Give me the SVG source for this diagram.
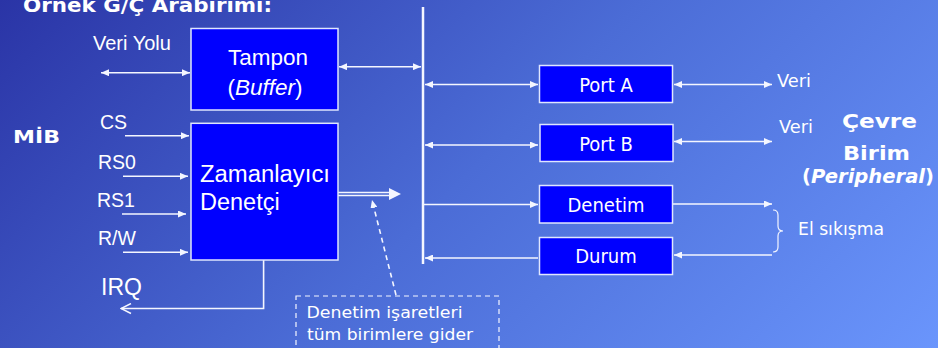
<svg xmlns="http://www.w3.org/2000/svg" width="938" height="348" viewBox="0 0 938 348">
  <defs>
    <linearGradient id="bg" gradientUnits="userSpaceOnUse" x1="0" y1="0" x2="643" y2="643">
      <stop offset="0" stop-color="#2a34a6"/>
      <stop offset="0.5" stop-color="#4b6cd6"/>
      <stop offset="1" stop-color="#6a95fc"/>
    </linearGradient>
    <marker id="tri" markerUnits="userSpaceOnUse" viewBox="0 0 8 7" refX="8" refY="3.5" markerWidth="8" markerHeight="7" orient="auto-start-reverse">
      <path d="M0,0 L8,3.5 L0,7 z" fill="#f4f6ff"/>
    </marker>
    <marker id="open" markerUnits="userSpaceOnUse" viewBox="0 0 12 12" refX="11" refY="6" markerWidth="12" markerHeight="12" orient="auto">
      <path d="M1,1 L11,6 L1,11" fill="none" stroke="#f4f6ff" stroke-width="1.5"/>
    </marker>
  </defs>
  <style>
    .box { fill: #0000ff; stroke: #dfe6ff; stroke-width: 1.5; }
    .ln { fill: none; stroke: #f4f6ff; stroke-width: 1.6; }
    .arw { marker-end: url(#tri); }
    .bi { marker-start: url(#tri); marker-end: url(#tri); }
    .sans { font-family: "Liberation Sans", Arial, sans-serif; fill: #ffffff; }
    .tah { font-family: "DejaVu Sans Condensed", "DejaVu Sans", sans-serif; font-stretch: condensed; fill: #ffffff; text-anchor: middle; font-size: 20px; }
    .comic { font-family: "Comic Sans MS", "DejaVu Sans", sans-serif; fill: #ffffff; }
    .cb { font-family: "Comic Sans MS", "DejaVu Sans", sans-serif; fill: #ffffff; font-weight: bold; }
  </style>

  <rect x="0" y="0" width="938" height="348" fill="url(#bg)"/>

  <!-- headings -->
  <text class="cb" x="23" y="12" font-size="19" textLength="249" lengthAdjust="spacingAndGlyphs">Örnek G/Ç Arabirimi:</text>
  <text class="cb" x="13" y="143" font-size="18" textLength="47" lengthAdjust="spacingAndGlyphs">MİB</text>
  <g id="peripheral">
    <text class="cb" x="842" y="128" font-size="19" textLength="75" lengthAdjust="spacingAndGlyphs">Çevre</text>
    <text class="cb" x="843" y="160" font-size="19" textLength="67" lengthAdjust="spacingAndGlyphs">Birim</text>
    <text class="cb" x="802" y="183" font-size="19" textLength="132" lengthAdjust="spacingAndGlyphs">(<tspan font-style="italic">Peripheral</tspan>)</text>
  </g>

  <!-- connectors -->
  <g id="connectors">
    <!-- system bus -->
    <line x1="423" y1="7" x2="423" y2="264" stroke="#f4f6ff" stroke-width="2.5"/>
    <!-- CPU data bus -->
    <line class="ln bi" x1="101" y1="72.7" x2="190" y2="72.7"/>
    <line class="ln bi" x1="339" y1="66.7" x2="421" y2="66.7"/>
    <!-- control inputs -->
    <line class="ln arw" x1="125" y1="135.7" x2="189" y2="135.7"/>
    <line class="ln arw" x1="123" y1="176.3" x2="188" y2="176.3"/>
    <line class="ln arw" x1="122" y1="214" x2="186" y2="214"/>
    <line class="ln arw" x1="123" y1="252.3" x2="188" y2="252.3"/>
    <!-- interrupt request -->
    <polyline class="ln" points="263.6,260 263.6,308.5 121,308.5" marker-end="url(#open)"/>
    <!-- control signals to all units -->
    <line x1="338" y1="192.5" x2="391" y2="192.5" stroke="#f4f6ff" stroke-width="1.5"/>
    <line x1="338" y1="195.5" x2="391" y2="195.5" stroke="#f4f6ff" stroke-width="1.5"/>
    <path d="M389,188 L401,194 L389,200 z" fill="#f4f6ff"/>
    <line class="ln arw" x1="396" y1="295" x2="372" y2="200" stroke-dasharray="5,4" stroke-width="1.3"/>
    <!-- bus to ports -->
    <line class="ln bi" x1="425" y1="84.5" x2="538" y2="84.5"/>
    <line class="ln bi" x1="425" y1="145" x2="538" y2="145"/>
    <line class="ln arw" x1="424" y1="204.5" x2="538" y2="204.5"/>
    <line class="ln arw" x1="538" y1="258" x2="425" y2="258"/>
    <!-- ports to peripheral -->
    <line class="ln bi" x1="674" y1="84.5" x2="772" y2="84.5"/>
    <line class="ln bi" x1="674" y1="141.5" x2="772" y2="141.5"/>
    <line class="ln arw" x1="673" y1="204" x2="772" y2="204"/>
    <line class="ln arw" x1="772" y1="255" x2="674" y2="255"/>
    <!-- handshake brace -->
    <path d="M773,210 Q778,210 778,215 L778,226 Q778,231 783,231 Q778,231 778,236 L778,247 Q778,252 773,252" fill="none" stroke="#f4f6ff" stroke-width="1.2"/>
  </g>

  <!-- signal labels -->
  <text class="sans" x="93" y="50" font-size="20">Veri Yolu</text>
  <text class="sans" x="100" y="129" font-size="19.5">CS</text>
  <text class="sans" x="98" y="169" font-size="19.5">RS0</text>
  <text class="sans" x="97" y="206.7" font-size="19.5">RS1</text>
  <text class="sans" x="98" y="245" font-size="19.5">R/W</text>
  <text class="sans" x="101" y="295" font-size="23">IRQ</text>
  <text class="comic" x="777" y="87" font-size="17" textLength="34" lengthAdjust="spacingAndGlyphs">Veri</text>
  <text class="comic" x="779" y="133" font-size="17" textLength="34" lengthAdjust="spacingAndGlyphs">Veri</text>
  <text class="comic" x="798" y="235" font-size="17" textLength="86" lengthAdjust="spacingAndGlyphs">El sıkışma</text>

  <!-- nodes -->
  <g id="tampon">
    <rect class="box" x="191" y="28.5" width="147" height="81.5"/>
    <text class="sans" x="268" y="65" font-size="22.5" text-anchor="middle">Tampon</text>
    <text class="sans" x="265" y="95" font-size="22.5" text-anchor="middle">(<tspan font-style="italic">Buffer</tspan>)</text>
  </g>
  <g id="zamanlayici">
    <rect class="box" x="191" y="123.3" width="147" height="136.7"/>
    <text class="sans" x="200" y="181.7" font-size="23.5" textLength="130" lengthAdjust="spacingAndGlyphs">Zamanlayıcı</text>
    <text class="sans" x="200" y="210" font-size="23.5">Denetçi</text>
  </g>
  <g id="portA">
    <rect class="box" x="539.5" y="65.5" width="133" height="37"/>
    <text class="tah" x="606" y="92">Port A</text>
  </g>
  <g id="portB">
    <rect class="box" x="540" y="124.5" width="133" height="37"/>
    <text class="tah" x="606" y="150.5">Port B</text>
  </g>
  <g id="denetim">
    <rect class="box" x="539.5" y="185.5" width="133" height="37.5"/>
    <text class="tah" x="606" y="211.5">Denetim</text>
  </g>
  <g id="durum">
    <rect class="box" x="539.5" y="237.5" width="133" height="37"/>
    <text class="tah" x="606" y="263">Durum</text>
  </g>
  <g id="note">
    <rect x="296" y="296" width="203" height="60" fill="none" stroke="#f4f6ff" stroke-width="1.2" stroke-dasharray="5,4"/>
    <text class="comic" x="306.5" y="318" font-size="15.5" textLength="156" lengthAdjust="spacingAndGlyphs">Denetim işaretleri</text>
    <text class="comic" x="307" y="340" font-size="15.5" textLength="166" lengthAdjust="spacingAndGlyphs">tüm birimlere gider</text>
  </g>
</svg>
